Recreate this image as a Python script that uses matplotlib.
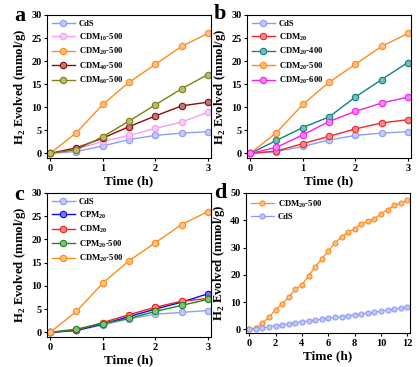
import matplotlib
matplotlib.use("Agg")
import matplotlib.pyplot as plt
import numpy as np

plt.rcParams['font.family'] = ['Liberation Serif', 'DejaVu Serif']
plt.rcParams['font.weight'] = 'bold'
plt.rcParams['mathtext.fontset'] = 'custom'
plt.rcParams['mathtext.rm'] = 'Liberation Serif:bold'
plt.rcParams['mathtext.bf'] = 'Liberation Serif:bold'

t = [0, 0.5, 1, 1.5, 2, 2.5, 3]

# panel a
a_labels = ['CdS', 'CDM$_{10}$-500', 'CDM$_{20}$-500', 'CDM$_{40}$-500', 'CDM$_{60}$-500']
a_cds = [0, 0.4, 1.6, 3.0, 3.9, 4.4, 4.7]
a_cdm10 = [0, 0.9, 2.6, 3.9, 5.4, 6.8, 8.9]
a_cdm20 = [0, 4.5, 10.6, 15.4, 19.3, 23.2, 26.0]
a_cdm40 = [0, 1.2, 3.3, 5.8, 8.1, 10.3, 11.1]
a_cdm60 = [0, 0.8, 3.6, 7.0, 10.5, 14.0, 17.1]

# panel b
b_labels = ['CdS', 'CDM$_{20}$', 'CDM$_{20}$-400', 'CDM$_{20}$-500', 'CDM$_{20}$-600']
b_cds = [0, 0.4, 1.5, 2.9, 3.9, 4.4, 4.7]
b_cdm20 = [0, 0.5, 2.1, 3.7, 5.3, 6.6, 7.3]
b_400 = [0, 2.8, 5.6, 7.9, 12.2, 16.0, 19.7]
b_500 = [0, 4.5, 10.6, 15.4, 19.3, 23.2, 26.0]
b_600 = [0, 1.3, 4.0, 6.9, 9.1, 10.9, 12.2]

# panel c
c_labels = ['CdS', 'CPM$_{20}$', 'CDM$_{20}$', 'CPM$_{20}$-500', 'CDM$_{20}$-500']
c_cds = [0, 0.4, 1.6, 2.9, 3.9, 4.3, 4.7]
c_cpm20 = [0, 0.4, 1.8, 3.4, 5.0, 6.5, 8.3]
c_cdm20 = [0, 0.5, 2.1, 3.8, 5.4, 6.7, 7.3]
c_cpm500 = [0, 0.7, 1.9, 3.0, 4.5, 5.8, 7.1]
c_cdm500 = [0, 4.5, 10.6, 15.4, 19.3, 23.2, 26.0]

# panel d
d_t = [0, 0.5, 1, 1.5, 2, 2.5, 3, 3.5, 4, 4.5, 5, 5.5, 6, 6.5, 7, 7.5, 8, 8.5,
       9, 9.5, 10, 10.5, 11, 11.5, 12]
d_labels = ['CDM$_{20}$-500', 'CdS']
d_cdm = [0, 0.5, 2.3, 4.5, 7.2, 9.4, 11.9, 14.7, 16.4, 19.6, 22.9, 25.9, 28.7,
         31.7, 33.9, 35.7, 36.9, 38.6, 39.6, 40.5, 42.4, 43.9, 45.5, 46.3, 47.4]
d_cds = [0, 0.2, 0.6, 1.0, 1.4, 1.7, 2.1, 2.4, 2.8, 3.1, 3.4, 3.7, 4.1, 4.4,
         4.7, 5.0, 5.4, 5.7, 6.0, 6.3, 6.7, 7.0, 7.4, 7.8, 8.2]

C_CDS = '#8f9cf5'
C_ORANGE = '#ff8a1c'

def lighten(c, f=0.45):
    import matplotlib.colors as mc
    r, g, b = mc.to_rgb(c)
    return (r + (1 - r) * f, g + (1 - g) * f, b + (1 - b) * f)

fig = plt.figure(figsize=(4.19, 3.67), dpi=100)
W, H = 419, 367

def make_ax(l, r, t_, b):
    return fig.add_axes([l / W, (H - b) / H, (r - l) / W, (b - t_) / H])

def style(ax, xlim, ylim, xticks, yticks, letter, lpos):
    ax.set_xlim(*xlim)
    ax.set_ylim(*ylim)
    ax.set_xticks(xticks)
    ax.set_yticks(yticks)
    ax.tick_params(labelsize=7.5, length=2.5, width=0.8, pad=1.5)
    for lab in ax.get_xticklabels() + ax.get_yticklabels():
        lab.set_fontweight('bold')
    for s in ax.spines.values():
        s.set_linewidth(0.8)
    ax.set_xlabel('Time (h)', fontsize=9.5, fontweight='bold', labelpad=2)
    ax.set_ylabel('H$_2$ Evolved (mmol/g)', fontsize=9.2, fontweight='bold', labelpad=2)
    fig.text(lpos[0] / W, (H - lpos[1]) / H, letter, fontsize=16,
             fontweight='bold', va='center', ha='center')

def plot_series(ax, x, ys, labels, colors, ms=4.6, lw=1.0):
    for y, lab, c in zip(ys, labels, colors):
        ax.plot(x, y, '-o', color=c, mfc=lighten(c), mec=c, ms=ms, lw=lw,
                mew=0.8, label=lab)
    ax.legend(loc='upper left', frameon=False, handlelength=2.6,
              borderaxespad=0.2, labelspacing=0.35, handletextpad=0.5,
              prop={'weight': 'bold', 'size': 6.2})

# a
ax = make_ax(47, 211, 15, 158)
plot_series(ax, t, [a_cds, a_cdm10, a_cdm20, a_cdm40, a_cdm60], a_labels,
            [C_CDS, '#f0a0f0', C_ORANGE, '#8b0a0a', '#7f7f10'])
style(ax, (-0.06, 3.06), (-1.0, 30), [0, 1, 2, 3], [0, 5, 10, 15, 20, 25, 30], 'a', (20, 16))

# b
ax = make_ax(247, 411, 15, 158)
plot_series(ax, t, [b_cds, b_cdm20, b_400, b_500, b_600], b_labels,
            [C_CDS, '#f02828', '#108080', C_ORANGE, '#f020f0'])
style(ax, (-0.06, 3.06), (-1.0, 30), [0, 1, 2, 3], [0, 5, 10, 15, 20, 25, 30], 'b', (220, 14))

# c
ax = make_ax(47, 211, 193, 337)
plot_series(ax, t, [c_cds, c_cpm20, c_cdm20, c_cpm500, c_cdm500], c_labels,
            [C_CDS, '#0a0af0', '#f02020', '#1a8a1a', C_ORANGE])
style(ax, (-0.06, 3.06), (-1.0, 30), [0, 1, 2, 3], [0, 5, 10, 15, 20, 25, 30], 'c', (19, 195))

# d
ax = make_ax(246, 410, 193, 333)
plot_series(ax, d_t, [d_cdm, d_cds], d_labels, [C_ORANGE, C_CDS], ms=3.6, lw=0.9)
style(ax, (-0.25, 12.2), (-1.3, 50), [0, 2, 4, 6, 8, 10, 12], [0, 10, 20, 30, 40, 50], 'd', (220, 193))

fig.savefig('out.png', dpi=100)
